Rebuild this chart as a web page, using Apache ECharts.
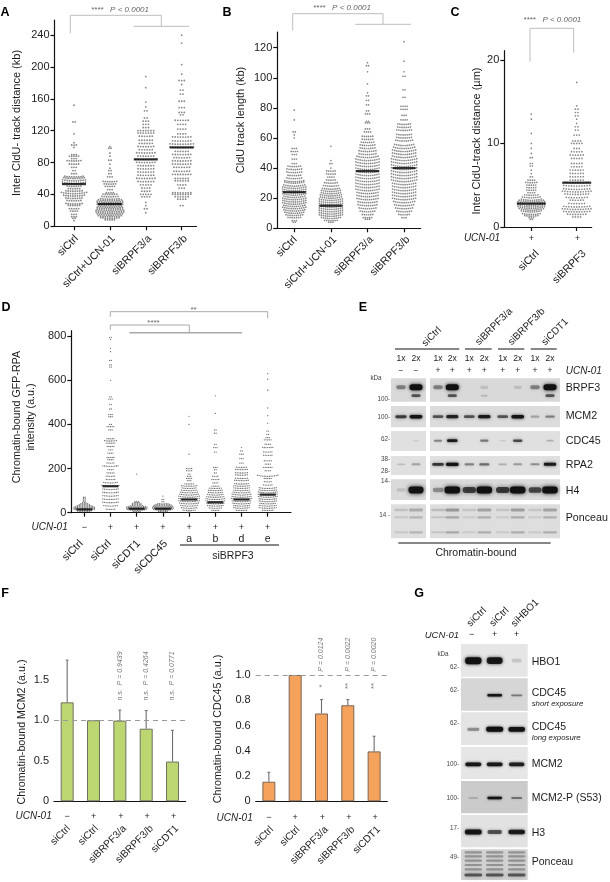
<!DOCTYPE html>
<html><head><meta charset="utf-8">
<style>html,body{margin:0;padding:0;background:#fff}#c{width:610px;height:882px}</style>
<script src="https://cdn.jsdelivr.net/npm/echarts@6/dist/echarts.min.js"></script>
</head><body><div id="c"></div>
<script>
// ---------- DATA (rows of a swarm: [value, number of dots at that value]) ----------
const catsA = ['siCtrl','siCtrl+UCN-01','siBRPF3/a','siBRPF3/b'];
const ticksA = [0,40,80,120,160,200,240];
const a_siCtrl = [[152,1],[131,2],[116,1],[105,1],[102,3],[99,1],[90,3],[88,5],[85,3],[82,7],[78,5],[74,3],[70,2],[66,3],[62,9],[60,10],[57,11],[54,11],[50,7],[47,6],[44,8],[41,12],[38,10],[35,8],[32,7],[28,8],[26,6],[22,5],[19,4],[15,3],[12,3],[10,2],[7,1]];
const a_siCtrlUcn = [[100,1],[98,2],[92,1],[88,1],[83,2],[78,1],[73,1],[70,2],[66,2],[62,3],[56,7],[53,6],[50,5],[46,3],[42,4],[40,7],[37,8],[34,9],[32,11],[30,12],[28,12],[26,12],[24,11],[22,12],[20,12],[18,13],[16,13],[14,12],[12,11],[10,9],[8,5]];
const a_siBrpf3a = [[188,1],[174,1],[156,1],[150,1],[145,2],[136,2],[132,3],[128,3],[124,3],[120,7],[117,7],[113,6],[108,6],[104,6],[100,7],[96,6],[92,8],[88,7],[84,9],[80,8],[76,7],[72,7],[68,7],[64,7],[60,8],[56,7],[52,5],[48,4],[44,4],[40,5],[37,4],[30,1],[26,1],[22,2],[17,1]];
const a_siBrpf3b = [[240,1],[230,1],[203,1],[191,1],[183,3],[178,1],[171,2],[166,2],[157,3],[149,3],[143,3],[140,2],[133,6],[128,4],[122,4],[116,4],[112,8],[107,8],[103,10],[99,10],[94,6],[90,8],[86,7],[82,8],[78,8],[74,7],[69,7],[65,8],[60,6],[57,6],[52,4],[48,3],[42,8],[40,8],[37,6],[34,4],[26,2]];
const a_medians = [53,28,84,99];

const catsB = catsA;
const ticksB = [0,20,40,60,80,100,120];
const b_siCtrl = [[78.5,1],[72,1],[64,2],[62,1],[60,1],[53,3],[51,4],[49,3],[46,3],[43,3],[41,7],[39,8],[37,8],[35,7],[33,8],[31,10],[30,10],[28,11],[26.5,12],[25,12],[23.5,12],[22,12],[20.5,11],[19,12],[17.5,12],[16,12],[14.5,11],[13,12],[11.5,11],[10,10],[8.5,9],[7,7],[5,3],[4,2]];
const b_siCtrlUcn = [[54.5,1],[45,1],[43,2],[40,1],[38,5],[36,5],[34,4],[32,5],[30,7],[28,8],[26,9],[24.5,10],[23,10],[21.5,11],[20,11],[18.5,12],[17,12],[15.5,12],[14,12],[12.5,12],[11,12],[9.5,12],[8,12],[6.5,10],[5,7],[4,3]];
const b_siBrpf3a = [[131,1],[110,1],[108,2],[104,1],[96,1],[90,1],[88,2],[85,2],[82,2],[78,2],[76,3],[71,2],[70,3],[66,3],[64,4],[61,6],[59,6],[57,7],[55,8],[53,8],[51,9],[49,9],[47,11],[45,12],[43,12],[41,12],[39,12],[37,12],[35,12],[33,12],[31,12],[29,12],[27,12],[25,12],[23,11],[21,11],[19,11],[17,10],[15,10],[13,9],[11,8],[9,6],[7,5],[6,3]];
const b_siBrpf3b = [[124,1],[111,1],[104,1],[101,2],[92,2],[87,2],[81,4],[79,4],[75,3],[72,4],[69,7],[67,7],[65,8],[62,8],[60,8],[58,9],[55,10],[53,11],[51,12],[49,12],[47,12],[45,13],[43,13],[41,13],[39,13],[37,13],[35,13],[33,13],[31,13],[29,12],[27,12],[25,12],[23,12],[21,12],[19,12],[17,11],[15,10],[13,9],[11,8],[9,6],[7,3]];
const b_medians = [24,15,38,40];

const catsC = ['siCtrl','siBRPF3'];
const ticksC = [0,10,20];
const c_siCtrl = [[13.5,1],[12.9,1],[11.2,1],[10,1],[9.4,1],[8.8,1],[8.3,2],[7.6,2],[7.3,2],[6.8,1],[6.4,1],[6,2],[5.6,4],[5.3,6],[5,5],[4.7,5],[4.4,5],[4.1,4],[3.8,7],[3.5,9],[3.2,10],[3,12],[2.8,13],[2.6,13],[2.4,13],[2.2,13],[2,12],[1.8,10],[1.5,9],[1.3,7],[1.1,3],[0.9,2]];
const c_siBrpf3 = [[17.3,1],[14.5,1],[14.1,2],[13.7,2],[13.3,2],[12.9,1],[12.4,1],[12,2],[11.6,2],[11,3],[10.3,4],[10,5],[9.4,3],[9,5],[8.6,6],[8.2,5],[7.6,5],[7.2,5],[6.8,6],[6.4,6],[6,6],[5.6,6],[5.3,10],[4.9,11],[4.5,11],[4.2,12],[3.9,10],[3.5,9],[3.2,6],[2.8,7],[2.4,11],[2.1,12],[1.8,11],[1.5,8],[1.2,4]];
const c_medians = [2.8,5.3];

const catsD = ['siCtrl','siCtrl','siCDT1','siCDC45'];
const lettersD = ['a','b','d','e'];
const ucnD = ['−','+','+','+','+','+','+','+'];
const ticksD = [0,200,400,600,800];
const d_siCtrlMinus = [[70,2],[65,2],[58,2],[52,2],[45,3],[40,5],[35,7],[30,9],[25,11],[20,13],[15,13],[10,13],[5,9]];
const d_siCtrlPlus = [[795,2],[785,1],[745,1],[730,1],[690,2],[670,2],[660,2],[600,1],[525,2],[515,3],[490,2],[470,2],[445,3],[435,3],[400,2],[390,5],[375,3],[335,5],[325,8],[315,6],[300,5],[285,3],[270,4],[250,5],[240,4],[225,5],[210,10],[195,4],[180,5],[165,6],[150,6],[135,9],[120,11],[105,10],[90,10],[75,10],[60,10],[45,10],[30,9],[15,6]];
const d_siCdt1 = [[175,1],[50,3],[45,4],[40,6],[35,6],[30,8],[25,11],[20,13],[15,13],[10,12],[5,5]];
const d_siCdc45 = [[75,1],[60,2],[50,2],[40,7],[35,9],[30,11],[25,12],[20,13],[15,13],[10,12],[5,6]];
const d_a = [[437,1],[400,1],[265,1],[200,4],[190,4],[175,2],[165,3],[155,4],[145,3],[130,6],[120,10],[110,9],[100,10],[90,11],[80,12],[70,13],[60,13],[50,13],[40,12],[30,11],[20,10],[10,8],[2,3]];
const d_b = [[530,1],[450,1],[375,2],[360,2],[310,2],[295,3],[275,2],[205,3],[195,2],[180,2],[165,4],[150,5],[135,4],[120,5],[110,8],[100,9],[90,9],[80,10],[70,11],[60,12],[50,12],[40,11],[30,10],[20,8],[10,5]];
const d_d = [[295,1],[280,2],[265,3],[245,3],[225,3],[205,7],[195,8],[180,8],[170,8],[155,8],[145,9],[130,9],[120,10],[110,10],[100,10],[90,11],[80,12],[70,12],[60,13],[50,12],[40,11],[30,10],[20,10],[10,7]];
const d_e = [[630,1],[605,1],[555,1],[475,1],[440,1],[405,1],[370,2],[355,2],[340,3],[330,5],[310,4],[295,7],[275,6],[260,6],[235,5],[220,4],[205,6],[190,4],[165,13],[155,5],[140,5],[125,6],[110,11],[100,11],[90,12],[80,12],[70,12],[60,11],[50,11],[40,10],[30,11],[20,11],[10,7]];
const d_medians = [15,120,18,18,60,47,60,82];

const catsF = ['siCtrl','siCtrl','siBRPF3/a','siBRPF3/b','siCDT1'];
const ucnF = ['−','+','+','+','+'];
const ticksF1 = [0,0.5,1,1.5];
const f1_values = [1.22,1.0,0.995,0.895,0.49];
const f1_errTop = [1.74,null,1.125,1.12,0.875];
const f1_p = ['','','0.9439','0.4264','0.0771'];
const ticksF2 = [0,0.2,0.4,0.6,0.8,1.0];
const f2_values = [0.155,1.0,0.695,0.76,0.395];
const f2_errTop = [0.23,null,0.805,0.805,0.515];
const f2_p = ['','','0.0124','0.0022','0.0020'];
const f2_stars = ['','','*','**','**'];

// Western blot band strengths, lane by lane
const e_brpf3Up = [.4,1,.4,1,0,.12,0,.12,.4,1];
const e_brpf3Lo = [0,.6,0,.6,0,.15,0,0,0,.6];
const e_mcm2 = [.7,.95,.6,.85,.6,.9,.6,.95,.25,.4];
const e_cdc45 = [0,.08,.4,.9,0,.45,.1,.65,0,.22];
const e_rpa2 = [.15,.28,.75,.95,.4,.5,.22,.3,.35,.9];
const e_h4 = [.12,.95,.35,1,.7,1,.72,1,.65,1];
const e_ponceau = [.14,.24,.16,.32,.12,.28,.12,.3,.12,.28];
const g_hbo1 = [.98,.9,.14];
const g_cdc45s = [0,.95,.42];
const g_cdc45l = [.35,1,.95];
const g_mcm2 = [.92,.9,.85];
const g_mcm2p = [.2,.95,.42];
const g_h3 = [.92,.6,.88];
const g_ponceau = [.3,.3,.3];

// ---------- LAYOUT ----------
const INK='#1c1c1c', GREY='#bdbdbd', FONT='"Liberation Sans",Arial,sans-serif';
const P = {
  A:{l:54.5,t:20,w:142,h:206.3,x0:74,dx:35.9,ymax:259},
  B:{l:277.3,t:32,w:143.4,h:196.3,x0:294.3,dx:36.6,ymax:130.4},
  C:{l:504.3,t:50.7,w:87.4,h:176.3,x0:531.3,dx:45.4,ymax:21.1},
  D:{l:71.3,t:330.7,w:219.7,h:182,x0:84.3,dx:26.2,ymax:825},
  F1:{l:54,t:655.3,w:131.7,h:146,ymax:1.8},
  F2:{l:255.7,t:662.7,w:131.6,h:138.6,ymax:1.097}
};
const px=(p,i)=>p.x0!==undefined? p.x0+i*p.dx : p.l+(i+.5)*p.w/5;
const gridOf=p=>({left:p.l,top:p.t,width:p.w,height:p.h,containLabel:false});
const line={lineStyle:{color:'#111',width:1.2}};

function xValue(gi,p){
  const mi=(p.l-p.x0)/p.dx, ma=(p.l+p.w-p.x0)/p.dx;
  const n=[]; for(let i=0;i<Math.ceil(ma);i++) n.push(i);
  return {type:'value',gridIndex:gi,min:mi,max:ma,splitLine:{show:false},
    axisLine:{onZero:false,...line},
    axisTick:{customValues:n,length:4,...line},
    axisLabel:{show:false}};
}
function yValue(gi,p,ticks,sz,fmt){
  return {type:'value',gridIndex:gi,min:0,max:p.ymax,splitLine:{show:false},
    axisLine:{onZero:false,...line},
    axisTick:{customValues:ticks,length:4,...line},
    axisLabel:{customValues:ticks,margin:5,fontSize:sz,color:INK,fontFamily:FONT,formatter:fmt}};
}
function swarm(gi,idx,rows,step,k,size,col='#6a6a6a'){
  const data=[];
  rows.forEach(([v,n])=>{for(let j=0;j<n;j++){const off=(j-(n-1)/2)*step;
    data.push({value:[idx,v],symbolOffset:[off,-k*off*off]});}});
  return {type:'scatter',xAxisIndex:gi,yAxisIndex:gi,data,symbol:'circle',symbolSize:size,
    itemStyle:{color:col},silent:true,z:3};
}
function medians(gi,vals,w){
  return {type:'scatter',xAxisIndex:gi,yAxisIndex:gi,data:vals.map((v,i)=>[i,v]),symbol:'rect',
    symbolSize:[w,2.2],itemStyle:{color:'#000'},silent:true,z:5};
}
function bars(gi,vals,fill,edge){
  return {type:'bar',xAxisIndex:gi,yAxisIndex:gi,data:vals,barWidth:13,silent:true,
    itemStyle:{color:fill,borderColor:edge,borderWidth:1},z:2};
}
function errors(gi,vals,tops,color){
  return {type:'custom',xAxisIndex:gi,yAxisIndex:gi,silent:true,z:3,
    data:tops.map((t,i)=>[i,vals[i],t===null?vals[i]:t]),
    renderItem:(ps,api)=>{
      const a=api.coord([api.value(0),api.value(1)]),b=api.coord([api.value(0),api.value(2)]);
      if(Math.abs(a[1]-b[1])<.5) return null;
      return {type:'group',children:[
        {type:'line',shape:{x1:a[0],y1:a[1],x2:b[0],y2:b[1]},style:{stroke:color,lineWidth:1.1}},
        {type:'line',shape:{x1:a[0]-1.5,y1:b[1],x2:a[0]+1.5,y2:b[1]},style:{stroke:color,lineWidth:1}}]};
    }};
}
function dashed(gi,v){
  return {type:'line',xAxisIndex:gi,yAxisIndex:gi,data:[],silent:true,
    markLine:{silent:true,symbol:'none',label:{show:false},animation:false,
      lineStyle:{color:'#9a9a9a',type:[5,4],width:1.1},data:[{yAxis:v}]}};
}

// ---------- BLOTS ----------
const laneE=[401,416,438,452.3,469.3,484.3,502.7,517.7,535,550];
const laneG=[473.3,494.7,516.7];
const bgE=[[250,320,'#d9d9d9'],[333,397,'#dcdcdc'],[408,468,'#e0e0e0'],[483,540,'#e0e0e0'],[553,615,'#dadada'],[628,730,'#dedede']];
const bgG=[[192,290,'#e6e6e6'],[295,392,'#d6d6d6'],[397,495,'#e4e4e4'],[501,597,'#e6e6e6'],[603,700,'#cbcbcb'],[705,802,'#e2e2e2'],[808,900,'#d4d4d4']];
const yE=z=>295+z/3, yG=z=>580+z/3;
const blotData=[];  // x,y,w,h,strength,blur
bgE.forEach(([a,b,c])=>{
  blotData.push({value:[391,yE(a),35,(b-a)/3,0,0],fill:c});
  blotData.push({value:[430,yE(a),130,(b-a)/3,0,0],fill:c});
});
bgG.forEach(([a,b,c])=>blotData.push({value:[461,yG(a),66.7,(b-a)/3,0,0],fill:c}));
function bandRow(lanes,y,vals,w,h,blur,wMin=.55,alpha=1){
  vals.forEach((d,i)=>{ if(d>0) blotData.push({value:[lanes[i],y,w*(wMin+(1-wMin)*d),h*(.45+.55*d),d*alpha,blur],band:true}); });
}
bandRow(laneE,yE(277),e_brpf3Up,13,6,1.6);
bandRow(laneE,yE(302),e_brpf3Lo,11,3.6,1.3);
bandRow(laneE,yE(365),e_mcm2,13,3.6,1.3);
bandRow(laneE,yE(437),e_cdc45,11,3.0,1.3);
bandRow(laneE,yE(508),e_rpa2,13,3.2,1.3);
bandRow(laneE,yE(585),e_h4,15.5,7,1.8,.5);
bandRow(laneE,yE(645),e_ponceau,15,5,4.5,.9);
bandRow(laneE,yE(667),e_ponceau.map(v=>v*.8),15,4,4.5,.9);
bandRow(laneE,yE(712),e_ponceau.map(v=>v*.8),15,4,4.5,.9);
bandRow(laneG,yG(242),g_hbo1,16.5,7,1.4);
bandRow(laneG,yG(346),g_cdc45s,15,2.6,1);
bandRow(laneG,yG(448),g_cdc45l,17,5,1.2);
bandRow(laneG,yG(553),g_mcm2,16.5,4,1.1);
bandRow(laneG,yG(654),g_mcm2p,15,2.6,1);
bandRow(laneG,yG(756),g_h3,17.5,5,1.2);
[817,829,842,855,868].forEach(z=>bandRow(laneG,yG(z),g_ponceau,18,3.4,2.6,.95));
bandRow(laneG,yG(885),g_ponceau.map(v=>v*2),18,4,2,.95);

const blotSeries={type:'custom',xAxisIndex:6,yAxisIndex:6,silent:true,z:1,clip:false,
  data:blotData,
  renderItem:(ps,api)=>{
    const it=blotData[ps.dataIndex], c=api.coord([api.value(0),api.value(1)]);
    const w=api.value(2),h=api.value(3);
    if(!it.band) return {type:'rect',shape:{x:c[0],y:c[1],width:w,height:h},style:{fill:it.fill}};
    const col=`rgba(16,16,16,${Math.min(1,api.value(4))})`;
    return {type:'rect',shape:{x:c[0]-w/2,y:c[1]-h/2,width:w,height:h,r:h/2.2},
      style:{fill:col,shadowColor:col,shadowBlur:api.value(5)*2.4}};
  }};

// ---------- TEXT / ANNOTATIONS ----------
const G=[];
function T(x,y,text,o={}){
  G.push({type:'text',x,y,rotation:(o.rot||0)*Math.PI/180,z:20,silent:true,style:{text,
    font:`${o.italic?'italic ':''}${o.bold?'bold ':''}${o.size||11}px ${FONT}`,
    fill:o.fill||INK,align:o.align||'center',verticalAlign:'middle',rich:o.rich}});
}
function PL(points,c=GREY,w=1){G.push({type:'polyline',z:15,silent:true,shape:{points},style:{stroke:c,lineWidth:w,fill:null}});}
[['A',5,12.5],['B',227,12.5],['C',455,12.5],['D',6,308],['E',363,308],['F',5,593.5],['G',419,593.5]]
  .forEach(([s,x,y])=>T(x,y,s,{bold:true,size:12.5,fill:'#000'}));
// rotated category labels under each panel
function catLabels(p,cats,y,nudges,size=10.7){cats.forEach((s,i)=>T(px(p,i)+nudges[i],y,s,{rot:45,align:'right',size}));}
catLabels(P.A,catsA,237,[2.7,3.5,4,4]);
catLabels(P.B,catsB,238,[1,4,4,4]);
catLabels(P.C,catsC,252,[6,7.6]);
catLabels(P.D,catsD,542,[-3,-1,2,3]);
catLabels(P.F1,catsF,827,[1.5,3,5,5.5,4.6],10.2);
catLabels(P.F2,catsF,828,[3,3,5,5.5,4.6],10.2);
// y axis titles
T(17,123,'Inter CldU- track distance (kb)',{rot:90,size:11});
T(241,120,'CldU track length (kb)',{rot:90,size:11});
T(477,141,'Inter CldU-track distance (µm)',{rot:90,size:11});
T(17,417,'Chromatin-bound GFP-RPA',{rot:90,size:10.7});
T(31,417,'intensity (a.u.)',{rot:90,size:10.7});
T(22,732,'Chromatin-bound MCM2 (a.u.)',{rot:90,size:10.7});
T(218,729,'Chromatin-bound CDC45 (a.u.)',{rot:90,size:10.7});
// P value headers and brackets
function pHead(x,y){T(x,y,'****   P < 0.0001',{italic:true,size:8,fill:'#666'});}
pHead(120,9.5);pHead(342,7.5);pHead(552.3,20);
PL([[70.3,33.3],[70.3,15.3],[161.3,15.3],[161.3,26.3]]);PL([[133.7,26.3],[189.3,26.3]]);
PL([[292.7,30.7],[292.7,13.7],[383,13.7],[383,24.3]]);PL([[355.3,24.3],[411,24.3]]);
PL([[530,61.7],[530,28.3],[573.7,28.3],[573.7,52.7]]);
PL([[110.3,316.7],[110.3,311.7],[267.7,311.7],[267.7,318.3]],'#aaa');
PL([[110.3,330],[110.3,325],[189.3,325],[189.3,332.3]],'#aaa');PL([[129.3,332.7],[242,332.7]],'#aaa',1.4);
T(193.5,309.5,'**',{size:8,fill:'#666'});T(153.5,322.5,'****',{size:8,fill:'#666'});
// UCN rows
const ucn=(x,y,sz=10)=>T(x,y,'UCN-01',{italic:true,size:sz,align:'right'});
ucn(500,238.7);T(px(P.C,0),238.7,'+',{size:9});T(px(P.C,1)+1,238.7,'+',{size:9});
ucn(67.7,527.3);ucnD.forEach((s,i)=>T(px(P.D,i),527.3,s,{size:9}));
lettersD.forEach((s,i)=>T(px(P.D,i+4),539,s,{size:10.5}));
PL([[180,545],[279,545]],'#111',1);T(233,555.7,'siBRPF3',{size:10.5});
ucn(51.7,816.7);ucnF.forEach((s,i)=>T(px(P.F1,i)+(i>1?1:0),816.7,s,{size:9}));
ucn(252.7,818);ucnF.forEach((s,i)=>T(px(P.F2,i)+(i>1?1:0),818,s,{size:9}));
// F p-values
const pRich={r:{font:`7px ${FONT}`,fill:'#777'},i:{font:`italic 7px ${FONT}`,fill:'#777'}};
f1_p.forEach((p,i)=>{ if(p) T(px(P.F1,i),676,`{r|n.s.}  {i|P = ${p}}`,{rot:90,size:7,fill:'#777',rich:pRich}); });
f2_p.forEach((p,i)=>{ if(p){ T(px(P.F2,i),654.7,`P = ${p}`,{rot:90,size:7,italic:true,fill:'#777'});
  T(px(P.F2,i),686,f2_stars[i],{rot:90,size:8,fill:'#777'}); }});
// Panel E text
[['siCtrl',431.7,336.7],['siBRPF3/a',494,326.7],['siBRPF3/b',526.7,326.7],['siCDT1',555,332]]
  .forEach(([s,x,y])=>T(x,y,s,{rot:45,size:10}));
[[395,459.3],[465,491.7],[498,524.3],[530.7,556.7]].forEach(([a,b])=>PL([[a,349],[b,349]],'#111',1));
laneE.forEach((x,i)=>{T(x,358.3,i%2?'2x':'1x',{size:8.5});T(x,371,i<2?'−':'+',{size:8.5});});
T(565.7,371,'UCN-01',{italic:true,size:10,align:'left'});
T(376,378.3,'kDa',{size:6.3,fill:'#444'});
[['100-',399],['100-',417.7],['62-',439.3],['38-',459],['28-',471.7],['14-',481],['14 -',515]]
  .forEach(([s,y])=>T(390,y,s,{size:6.3,align:'right',fill:'#444'}));
[['BRPF3',388.3],['MCM2',415.7],['CDC45',440.7],['RPA2',465],['H4',490.7],['Ponceau',518.3]]
  .forEach(([s,y])=>T(565.7,y,s,{size:10.7,align:'left'}));
PL([[398.3,543],[550.7,543]],'#111',1);T(476,552.7,'Chromatin-bound',{size:10.5});
// Panel G text
[['siCtrl',476.7,617],['siCtrl',499.3,617],['siHBO1',525,613]].forEach(([s,x,y])=>T(x,y,s,{rot:45,size:10}));
ucn(459,635,9.5);[['−',471.7],['+',494.7],['+',516.7]].forEach(([s,x])=>T(x,635,s,{size:9}));
T(443,654,'kDa',{size:6.3,fill:'#444'});
[['62-',667.3],['62-',690.7],['62-',723.3],['100-',764.3],['100-',798.7],['17-',828.3],['49-',857.7]]
  .forEach(([s,y])=>T(459,y,s,{size:6.3,align:'right',fill:'#444'}));
[['HBO1',662.3],['CDC45',693.3],['CDC45',727.3],['MCM2',764.3],['MCM2-P (S53)',797.7],['H3',833.3],['Ponceau',861.7]]
  .forEach(([s,y])=>T(531.7,y,s,{size:10.5,align:'left'}));
T(531.7,704.3,'short exposure',{italic:true,size:7.8,align:'left'});
T(531.7,737.7,'long exposure',{italic:true,size:7.8,align:'left'});

// ---------- CHART ----------
const chart=echarts.init(document.getElementById('c'),null,{renderer:'canvas'});
const catX=(gi)=>({type:'category',gridIndex:gi,data:catsF,axisLine:{onZero:false,...line},axisTick:{alignWithLabel:true,length:4,...line},axisLabel:{show:false}});
chart.setOption({
  animation:false,backgroundColor:'#fff',
  grid:[gridOf(P.A),gridOf(P.B),gridOf(P.C),gridOf(P.D),gridOf(P.F1),gridOf(P.F2),{left:0,top:0,width:610,height:882}],
  xAxis:[
    xValue(0,P.A),xValue(1,P.B),xValue(2,P.C),xValue(3,P.D),catX(4),catX(5),
    {type:'value',gridIndex:6,min:0,max:610,show:false}
  ],
  yAxis:[
    yValue(0,P.A,ticksA,11),yValue(1,P.B,ticksB,11),yValue(2,P.C,ticksC,11),yValue(3,P.D,ticksD,11),
    yValue(4,P.F1,ticksF1,11,v=>v===0?'0':v.toFixed(1)),yValue(5,P.F2,ticksF2,11,v=>v===0?'0':v.toFixed(1)),
    {type:'value',gridIndex:6,min:0,max:882,inverse:true,show:false}
  ],
  series:[
    blotSeries,
    swarm(0,0,a_siCtrl,2.3,.008,1.8),swarm(0,1,a_siCtrlUcn,2.3,.008,1.8),swarm(0,2,a_siBrpf3a,2.6,.003,1.8),swarm(0,3,a_siBrpf3b,2.6,.003,1.8),medians(0,a_medians,24),
    swarm(1,0,b_siCtrl,2.1,.012,1.7),swarm(1,1,b_siCtrlUcn,2.1,.012,1.7),swarm(1,2,b_siBrpf3a,2.1,.012,1.7),swarm(1,3,b_siBrpf3b,2.1,.012,1.7),medians(1,b_medians,23),
    swarm(2,0,c_siCtrl,2.2,.012,1.7),swarm(2,1,c_siBrpf3,2.6,.004,1.7),medians(2,c_medians,29),
    swarm(3,0,d_siCtrlMinus,1.7,.012,1.3,'#4a4a4a'),swarm(3,1,d_siCtrlPlus,1.7,.01,1.3,'#4a4a4a'),swarm(3,2,d_siCdt1,1.7,.012,1.3,'#4a4a4a'),swarm(3,3,d_siCdc45,1.7,.012,1.3,'#4a4a4a'),
    swarm(3,4,d_a,1.7,.01,1.3,'#4a4a4a'),swarm(3,5,d_b,1.7,.01,1.3,'#4a4a4a'),swarm(3,6,d_d,1.7,.01,1.3,'#4a4a4a'),swarm(3,7,d_e,1.7,.01,1.3,'#4a4a4a'),medians(3,d_medians,16),
    bars(4,f1_values,'#bcd672','#6f7062'),errors(4,f1_values,f1_errTop,'#6e6e6e'),dashed(4,1),
    bars(5,f2_values,'#f4a25c','#7d6655'),errors(5,f2_values,f2_errTop,'#6e6e6e'),dashed(5,1)
  ],
  graphic:{elements:G}
});
</script></body></html>
